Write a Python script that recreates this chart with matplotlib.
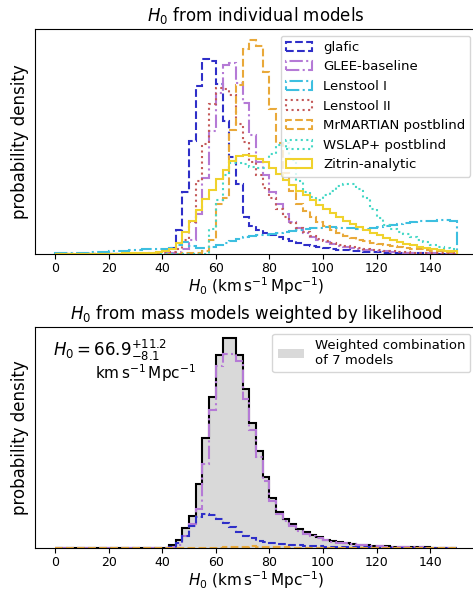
import matplotlib
matplotlib.use("Agg")
import matplotlib.pyplot as plt
import numpy as np

# H0 bins, 2.5 wide from 0 to 150
bin_edges = np.arange(0, 150.1, 2.5)

models = ["glafic", "GLEE-baseline", "Lenstool I", "Lenstool II",
          "MrMARTIAN postblind", "WSLAP+ postblind", "Zitrin-analytic"]

# probability density per bin (arbitrary units)
glafic = [0.1, 0.1, 0.1, 0.1, 0.2, 0.2, 0.2, 0.2, 0.3, 0.3,
          0.3, 0.4, 0.4, 0.5, 0.6, 1, 3, 6, 24, 62,
          114, 169, 197, 195, 171, 134, 98, 71, 37, 28,
          24, 21, 19, 17, 15, 13, 11, 9.5, 8, 7,
          6, 5, 4.3, 3.7, 3.1, 2.6, 2.2, 1.9, 1.6, 1.3,
          1.1, 0.9, 0.8, 0.7, 0.6, 0.5, 0.4, 0.35, 0.3, 0.25]
glee = [0, 0, 0, 0, 0, 0, 0, 0, 0, 0,
        0, 0, 0, 0, 0.3, 0.6, 1, 1.5, 2, 5,
        14, 40, 77, 124, 162, 191, 193, 172, 152, 120,
        93, 80, 63, 50, 40, 32, 26, 21, 17, 14,
        12, 10, 8.5, 7, 6, 5, 4.3, 3.7, 3.1, 2.6,
        2.2, 1.8, 1.5, 1.2, 1, 0.8, 0.7, 0.5, 0.4, 0.3]
lenstool1 = [1, 1, 1.5, 1.5, 1.5, 2, 2, 2.5, 3, 3.5,
             3.5, 4, 4.5, 5, 5.5, 5, 5, 6, 9, 12,
             8, 6, 6, 7, 9, 11, 13, 15, 17, 18,
             19, 19, 20, 21, 22, 23, 24, 25, 26, 26,
             27, 27, 26, 26, 26, 25, 25, 26, 27, 28,
             29, 30, 31, 32, 33, 33, 33, 34, 34, 33]
lenstool2 = [0, 0, 0, 0, 0, 0, 0, 0, 0, 0,
             0, 0, 0, 0, 0.3, 0.7, 1, 2, 5, 14,
             32, 74, 111, 151, 167, 166, 160, 131, 113, 93,
             80, 67, 56, 45, 37, 31, 26, 22, 18, 15,
             13, 11, 9.5, 8, 7, 6, 5, 4.3, 3.7, 3.1,
             2.6, 2.2, 1.8, 1.5, 1.3, 1.1, 1, 0.9, 0.8, 0.7]
mrmartian = [0, 0, 0, 0, 0, 0, 0, 0, 0, 0,
             0, 0, 0, 0, 0, 0, 0, 0, 0.5, 1,
             1, 1.5, 3, 14, 50, 56, 125, 170, 207, 216,
             210, 183, 146, 112, 82, 64, 50, 43, 37, 32,
             28, 24, 21, 18.5, 16.5, 14.5, 13, 11.5, 10, 9,
             8, 7, 6, 5.3, 4.6, 4, 3.5, 3, 2.5, 2]
wslap = [0, 0, 0, 0, 0, 0, 0, 0, 0, 0,
         0, 0, 0, 0, 0, 0, 0, 0, 0, 0,
         0, 0, 0, 25, 54, 80, 92, 92, 91, 88,
         87, 87, 101, 110, 112, 95, 74, 62, 57, 54,
         59, 64, 69, 71, 71, 66, 56, 45, 36, 29,
         25, 22, 20, 17, 14, 12, 9, 7, 6, 5]
zitrin = [0.2, 0.2, 0.2, 0.2, 0.2, 0.2, 0.2, 0.2, 0.4, 0.5,
          0.6, 0.8, 1, 1.2, 1.5, 2, 3, 5, 11, 22,
          33, 44, 55, 65, 76, 85, 94, 99, 100, 99,
          96, 93, 87, 81, 75, 70, 64, 59, 54, 49,
          45, 41, 37, 33, 30, 27, 24, 21, 19, 16,
          14, 12, 10.5, 9, 7.5, 6.3, 5.2, 4.2, 3.3, 2.6]

# likelihood-weighted combination and the weighted contributions
combined = [0.1, 0.1, 0.1, 0.1, 0.1, 0.1, 0.1, 0.1, 0.1, 0.1,
            0.1, 0.1, 0.1, 0.1, 0.2, 0.3, 0.5, 3, 8, 20,
            33, 65, 112, 154, 196, 214, 214, 196, 162, 127,
            99, 72, 51, 37, 29, 24, 19, 16, 13, 11,
            8.5, 7, 6, 5, 4.3, 3.5, 3, 2.5, 2, 1.6,
            1.3, 1.1, 0.9, 0.8, 0.7, 0.6, 0.5, 0.4, 0.3, 0.25]
glee_w = [0, 0, 0, 0, 0, 0, 0, 0, 0, 0,
          0, 0, 0, 0, 0, 0, 0.3, 1, 3, 12,
          24, 40, 85, 140, 185, 197, 197, 190, 152, 120,
          93, 68, 48, 35, 27, 22, 17, 14.5, 12, 10,
          8, 6.5, 5.5, 4.6, 4, 3.3, 2.8, 2.3, 1.9, 1.5,
          1.2, 1, 0.8, 0.7, 0.6, 0.5, 0.4, 0.3, 0.25, 0.2]
glafic_w = [0, 0, 0, 0, 0, 0, 0, 0, 0, 0,
            0, 0, 0, 0, 0.1, 0.2, 0.5, 1.5, 5, 12,
            22, 32, 35, 34, 29, 25, 21, 16, 12, 10,
            7.5, 6, 5, 4.3, 3.7, 3.2, 2.8, 2.4, 2, 1.7,
            1.4, 1.2, 1, 0.9, 0.8, 0.7, 0.6, 0.5, 0.4, 0.3,
            0.3, 0.3, 0.3, 0.3, 0.3, 0.3, 0.3, 0.3, 0.3, 0.3]
mrmartian_w = [0, 0, 0, 0, 0, 0, 0, 0, 0, 0,
               0, 0, 0, 0, 0, 0, 0, 0, 0, 0,
               0, 0, 0.1, 0.2, 0.4, 0.6, 0.9, 1.2, 1.5, 1.6,
               1.5, 1.3, 1.0, 0.8, 0.6, 0.5, 0.4, 0.3, 0.3, 0.2,
               0.2, 0.2, 0.1, 0.1, 0.1, 0.1, 0.1, 0.1, 0.1, 0.1,
               0, 0, 0, 0, 0, 0, 0, 0, 0, 0]

colors = ["#2F2FC8", "#B57AD6", "#3DBFE0", "#C45A5A", "#E9A93A", "#45D8C6", "#F0D22C"]
styles = ["--", "-.", "-.", ":", "--", ":", "-"]

centers = 0.5 * (bin_edges[1:] + bin_edges[:-1])
xlabel = r"$H_0$ ($\mathrm{km\,s^{-1}\,Mpc^{-1}}$)"

fig = plt.figure(figsize=(4.73, 5.93), dpi=100)

ax1 = fig.add_axes([35/473, 339/593, 442/473, 225/593])
series = [glafic, glee, lenstool1, lenstool2, mrmartian, wslap, zitrin]
for vals, name, c, ls in zip(series, models, colors, styles):
    ax1.hist(centers, bins=bin_edges, weights=vals, histtype="step",
             color=c, ls=ls, lw=1.5, label=name)
ax1.set_xlim(-7.5, 157.5)
ax1.set_yticks([])
ax1.set_xticks(np.arange(0, 141, 20))
ax1.tick_params(labelsize=9, pad=2.5)
ax1.set_xlabel(xlabel, fontsize=11, labelpad=0)
ax1.set_ylabel("probability density", fontsize=12)
ax1.set_title(r"$H_0$ from individual models", fontsize=12)
ax1.legend(loc="upper right", fontsize=9.5)

ax2 = fig.add_axes([35/473, 45/593, 442/473, 221/593])
ax2.hist(centers, bins=bin_edges, weights=combined, histtype="stepfilled",
         color="#D9D9D9", label="Weighted combination\nof 7 models")
ax2.hist(centers, bins=bin_edges, weights=combined, histtype="step",
         color="black", lw=1.5)
ax2.hist(centers, bins=bin_edges, weights=glee_w, histtype="step",
         color=colors[1], ls="-.", lw=1.5)
ax2.hist(centers, bins=bin_edges, weights=glafic_w, histtype="step",
         color=colors[0], ls="--", lw=1.5)
ax2.hist(centers, bins=bin_edges, weights=mrmartian_w, histtype="step",
         color=colors[4], ls="--", lw=1.5)
ax2.set_xlim(-7.5, 157.5)
ax2.set_yticks([])
ax2.set_xticks(np.arange(0, 141, 20))
ax2.tick_params(labelsize=9, pad=2.5)
ax2.set_xlabel(xlabel, fontsize=11, labelpad=0)
ax2.set_ylabel("probability density", fontsize=12)
ax2.set_title(r"$H_0$ from mass models weighted by likelihood", fontsize=12)
ax2.legend(loc="upper right", fontsize=9.5)
ax2.text(0.04, 0.95, r"$H_0 = 66.9^{+11.2}_{-8.1}$", transform=ax2.transAxes,
         fontsize=12, va="top")
ax2.text(0.135, 0.84, r"$\mathrm{km\,s^{-1}\,Mpc^{-1}}$", transform=ax2.transAxes,
         fontsize=11, va="top")

fig.savefig("out.png", dpi=100)
